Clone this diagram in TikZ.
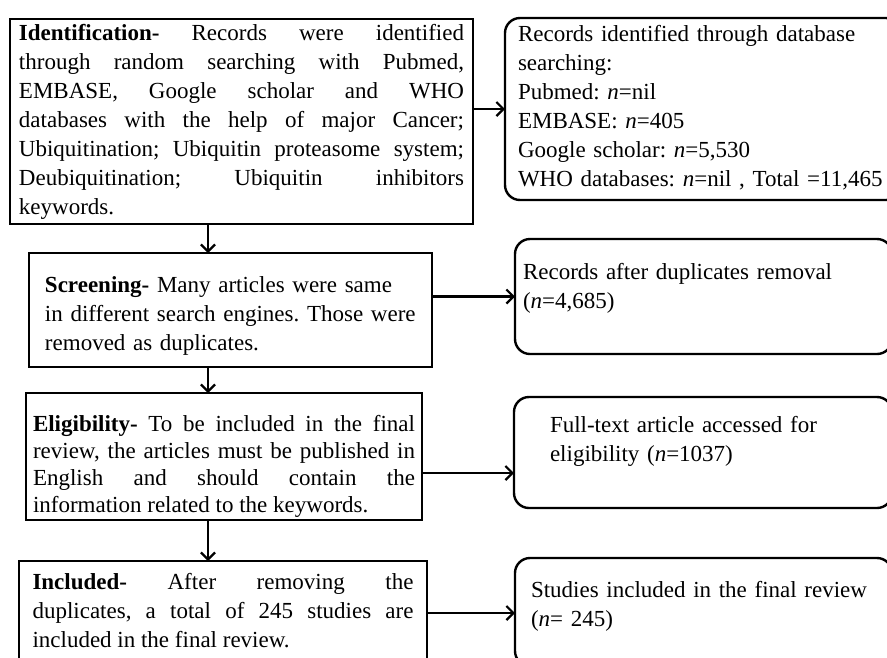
\documentclass[tikz,border=0pt]{standalone}
\usepackage{fontspec}
\setmainfont{Liberation Serif}
\usetikzlibrary{arrows.meta}

\begin{document}
\begin{tikzpicture}[x=1pt, y=-1pt, line width=2.2pt, >={Straight Barb[length=7pt,width=14pt]},
  main/.style = {draw, line width=2.4pt, anchor=north west, outer sep=0pt, text height=16pt, font=\fontsize{23}{29}\selectfont\frenchspacing},
  side/.style = {main, rounded corners=15pt, align=left}]
\useasboundingbox (0,0) rectangle (887,657);
\clip (0,0) rectangle (887,657);
\coordinate (axis) at (208,0);
\node[main, align=justify, text width=445pt, inner xsep=9pt, inner ysep=5pt, text depth=179pt] (id) at (10,19) {\textbf{Identification-} Records were identified\linebreak through random searching with Pubmed,\linebreak EMBASE, Google scholar and WHO\linebreak databases with the help of major Cancer;\linebreak Ubiquitination; Ubiquitin proteasome system;\linebreak Deubiquitination; Ubiquitin inhibitors\linebreak keywords.};
\node[main, align=left, text width=371pt, inner xsep=16pt, inner ysep=23pt, text depth=52pt] (scr) at (29,253) {\textbf{Screening-} Many articles were same\\ \mbox{in different search engines. Those were}\\ removed as duplicates.};
\node[main, align=justify, text width=382pt, inner xsep=7pt, inner ysep=22pt, text depth=67pt, font=\fontsize{23}{27}\selectfont\frenchspacing] (elig) at (26,393) {\textbf{Eligibility-} To be included in the final\linebreak review, the articles must be published in\linebreak English and should contain the\linebreak information related to the keywords.};
\node[main, align=justify, text width=381pt, inner xsep=13.5pt, inner ysep=12pt, text depth=64pt] (incl) at (19,561) {\textbf{Included-} After removing the\linebreak duplicates, a total of 245 studies are\linebreak included in the final review.};
\node[side, text width=370pt, inner xsep=13pt, inner ysep=7pt, text depth=152pt] (rec) at (505,18) {Records identified through database\\ searching:\\ Pubmed: \textit{n}=nil\\ EMBASE: \textit{n}=405\\ Google scholar: \textit{n}=5,530\\ WHO databases: \textit{n}=nil , Total =11,465};
\node[side, text width=361pt, inner xsep=8pt, inner ysep=24pt, text depth=51pt] (dup) at (515,239) {Records after duplicates removal\\ (\textit{n}=4,685)};
\node[side, text width=306pt, inner xsep=36pt, inner ysep=19pt, text depth=57pt] (full) at (514,397) {Full-text article accessed for\\ eligibility (\textit{n}=1037)};
\node[side, text width=345pt, inner xsep=16pt, inner ysep=23pt, text depth=46pt] (stud) at (515,558) {Studies included in the final review\\ (\textit{n}= 245)};
\draw[->] (id.south -| axis) -- (scr.north -| axis);
\draw[->] (scr.south -| axis) -- (elig.north -| axis);
\draw[->] (elig.south -| axis) -- (incl.north -| axis);
\draw[->] (id.east |- rec.west) -- (rec.west);
\draw[->] (scr.east |- dup.west) -- (dup.west);
\draw[->] ([yshift=-16.5pt]elig.east) -- ([yshift=-16.5pt]elig.east -| full.west);
\draw[->] (incl.east) -- (incl.east -| stud.west);
\end{tikzpicture}
\end{document}
